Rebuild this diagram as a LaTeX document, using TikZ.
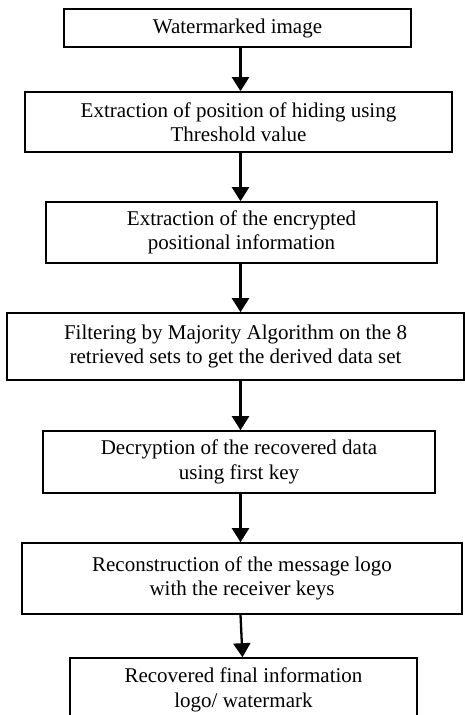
\documentclass[tikz,border=0pt]{standalone}
\usepackage{fontspec}
\setmainfont{Liberation Serif}
\usetikzlibrary{arrows.meta}
\begin{document}
\begin{tikzpicture}[x=1pt,y=-1pt,>={Triangle[width=17pt,length=14pt]},
  box/.style={draw,line width=1.6pt,align=center,inner sep=0pt,
    font=\fontsize{21}{24.5}\selectfont},
  flow/.style={->,line width=2.3pt}]
\useasboundingbox (0,0) rectangle (465,715);
\coordinate (axis) at (240.5,0);
\node[box,minimum width=347pt,minimum height=38pt] (b1) at (237.5,28) {Watermarked image};
\node[box,minimum width=427pt,minimum height=60pt] (b2) at (238.5,122) {Extraction of position of hiding using\\Threshold value};
\node[box,minimum width=391pt,minimum height=61pt] (b3) at (241.5,232.5) {Extraction of the encrypted\\positional information};
\node[box,minimum width=457pt,minimum height=67pt] (b4) at (235.5,346.5) {Filtering by Majority Algorithm on the 8\\retrieved sets to get the derived data set};
\node[box,minimum width=392pt,minimum height=62pt] (b5) at (239,462) {Decryption of the recovered data\\using first key};
\node[box,minimum width=440pt,minimum height=71pt] (b6) at (242,578.5) {Reconstruction of the message logo\\with the receiver keys};
\node[box,minimum width=347pt,minimum height=64pt] (b7) at (243.5,690) {Recovered final information\\logo/ watermark};
% arrows
\draw[flow] (b1.south -| axis) -- (b2.north -| axis);
\draw[flow] (b2.south -| axis) -- (b3.north -| axis);
\draw[flow] (b3.south -| axis) -- (b4.north -| axis);
\draw[flow] (b4.south -| axis) -- (b5.north -| axis);
\draw[flow] (b5.south -| axis) -- (b6.north -| axis);
\draw[flow] (b6.south -| axis) -- ([xshift=2pt]b7.north -| axis);
\end{tikzpicture}
\end{document}
